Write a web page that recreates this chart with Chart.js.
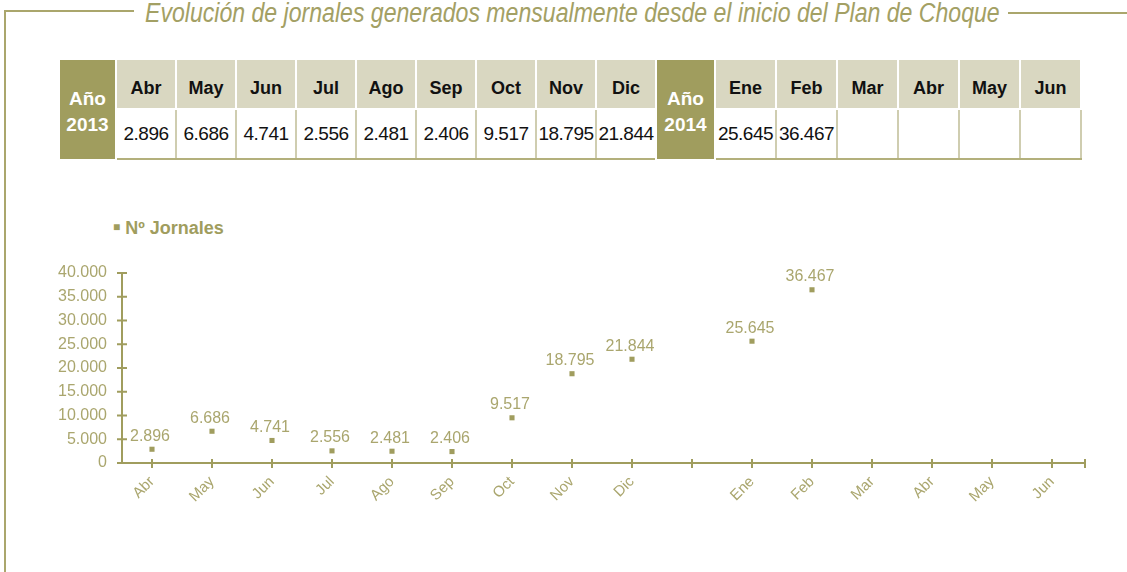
<!DOCTYPE html>
<html>
<head>
<meta charset="utf-8">
<script src="https://cdn.jsdelivr.net/npm/chart.js@4/dist/chart.umd.min.js"></script>
<style>
  body { margin: 0; background: #fff; width: 1127px; height: 572px; overflow: hidden; position: relative; font-family: "Liberation Sans", Arial, sans-serif; }
  .frame-h1 { position: absolute; left: 5px; top: 10px; width: 129px; height: 2px; background: #aaa66c; }
  .frame-h2 { position: absolute; left: 1008px; top: 12px; width: 119px; height: 2px; background: #aaa66c; }
  .frame-v { position: absolute; left: 4px; top: 10px; width: 2px; height: 562px; background: #aaa66c; }
  #title { position: absolute; left: 145px; top: -2px; font: italic 27px "Liberation Sans", sans-serif; color: #a3a064; white-space: nowrap; line-height: 30px; transform: scaleX(0.855); transform-origin: 0 0; }
  #tbl { position: absolute; left: 58px; top: 60px; width: 1022px; border-collapse: collapse; table-layout: fixed; }
  #tbl td { padding: 0; text-align: center; }
  #tbl .yr { background: #a09d5e; color: #fff; font: bold 19px "Liberation Sans", sans-serif; line-height: 26px; border-left: 2px solid #fff; border-right: 2px solid #fff; padding-top: 4px; }
  #tbl .hd { height: 40px; padding-top: 8px; background: #d9d7c1; font: bold 18px "Liberation Sans", sans-serif; color: #111; border: 2px solid #fff; border-top: 0; }
  #tbl .val { height: 48px; font: 19px "Liberation Sans", sans-serif; letter-spacing: -0.5px; color: #111; border-left: 2px solid #cfcdb0; border-right: 2px solid #cfcdb0; border-bottom: 2px solid #b3b07c; white-space: nowrap; overflow: visible; }
  #legend { position: absolute; left: 113px; top: 218px; font: bold 18px "Liberation Sans", sans-serif; color: #a09d5e; }
  #chartBox { position: absolute; left: 0; top: 250px; width: 1127px; height: 270px; }
</style>
</head>
<body>
<div class="frame-h1"></div>
<div class="frame-h2"></div>
<div class="frame-v"></div>
<div id="title">Evolución de jornales generados mensualmente desde el inicio del Plan de Choque</div>
<table id="tbl">
  <colgroup id="cols"></colgroup>
  <tr id="r1"></tr><tr id="r2"></tr>
</table>
<div id="legend"><span style="font-size:12px;vertical-align:3px">&#9632;</span> Nº Jornales</div>
<div id="chartBox"><canvas id="myChart"></canvas></div>
<script>
var months2013 = ["Abr", "May", "Jun", "Jul", "Ago", "Sep", "Oct", "Nov", "Dic"];
var values2013 = [2896, 6686, 4741, 2556, 2481, 2406, 9517, 18795, 21844];
var months2014 = ["Ene", "Feb", "Mar", "Abr", "May", "Jun"];
var values2014 = [25645, 36467, null, null, null, null];

// chart categories: an empty slot sits between Dic and Ene
var xLabels = ["Abr", "May", "Jun", "Jul", "Ago", "Sep", "Oct", "Nov", "Dic", "", "Ene", "Feb", "Mar", "Abr", "May", "Jun"];
var jornales = [2896, 6686, 4741, 2556, 2481, 2406, 9517, 18795, 21844, null, 25645, 36467, null, null, null, null];
var yMin = 0, yMax = 40000, yStep = 5000;

var olive = "#a09d5e";
var textOlive = "#aaa66e";

function fmt(n) {
  return String(n).replace(/\B(?=(\d{3})+(?!\d))/g, ".");
}

// table
const cols = document.getElementById("cols")
const r1 = document.getElementById("r1")
const r2 = document.getElementById("r2")
function addYear(year, w) {
  cols.insertAdjacentHTML('beforeend', '<col style="width:' + w + 'px">')
  r1.insertAdjacentHTML('beforeend', '<td class="yr" rowspan="2">Año<br>' + year + '</td>')
}
addYear(2013, 57)
months2013.forEach((m, i) => {
  cols.insertAdjacentHTML('beforeend', '<col style="width:60px">')
  r1.insertAdjacentHTML('beforeend', '<td class="hd">' + m + '</td>')
  r2.insertAdjacentHTML('beforeend', '<td class="val">' + fmt(values2013[i]) + '</td>')
})
addYear(2014, 59)
months2014.forEach((m, i) => {
  cols.insertAdjacentHTML('beforeend', '<col style="width:61px">')
  r1.insertAdjacentHTML('beforeend', '<td class="hd">' + m + '</td>')
  r2.insertAdjacentHTML('beforeend', '<td class="val">' + (values2014[i] == null ? '' : fmt(values2014[i])) + '</td>')
})

// axes with ticks crossing the lines
const axisLines = {
  id: "axisLines",
  afterDraw(chart) {
    const ctx = chart.ctx
    const ca = chart.chartArea
    const xs = chart.scales.x, ys = chart.scales.y
    ctx.save()
    ctx.strokeStyle = olive
    ctx.lineWidth = 2
    ctx.beginPath()
    ctx.moveTo(ca.left, ca.top)
    ctx.lineTo(ca.left, ca.bottom)
    ctx.moveTo(ca.left - 5, ca.bottom)
    ctx.lineTo(ca.right + 3, ca.bottom)
    ys.ticks.forEach(t => {
      const y = ys.getPixelForValue(t.value)
      ctx.moveTo(ca.left - 5, y)
      ctx.lineTo(ca.left + 5, y)
    })
    xLabels.forEach((l, i) => {
      const x = xs.getPixelForValue(i)
      ctx.moveTo(x, ca.bottom - 4)
      ctx.lineTo(x, ca.bottom + 5)
    })
    ctx.moveTo(ca.right + 3, ca.bottom - 4)
    ctx.lineTo(ca.right + 3, ca.bottom + 5)
    ctx.stroke()
    ctx.restore()
  }
}

const valueLabels = {
  id: "valueLabels",
  afterDatasetsDraw(chart) {
    const ctx = chart.ctx
    const meta = chart.getDatasetMeta(0)
    ctx.save()
    ctx.fillStyle = textOlive
    ctx.font = '16px "Liberation Sans"'
    ctx.textAlign = "center"
    ctx.textBaseline = "bottom"
    meta.data.forEach((pt, i) => {
      const v = jornales[i]
      if (v == null) return
      ctx.fillText(fmt(v), pt.x - 2, pt.y - 5)
    })
    ctx.restore()
  }
}

new Chart("myChart", {
  type: "line",
  data: {
    labels: xLabels,
    datasets: [{
      label: "Nº Jornales",
      data: jornales,
      showLine: false,
      pointStyle: "rect",
      pointRadius: 3.6,
      pointBorderWidth: 0,
      pointBackgroundColor: olive,
      backgroundColor: olive
    }]
  },
  options: {
    responsive: true,
    maintainAspectRatio: false,
    animation: false,
    layout: { padding: { top: 22, right: 45, left: 0, bottom: 0 } },
    plugins: {
      legend: { display: false },
      tooltip: { enabled: false }
    },
    scales: {
      x: {
        offset: true,
        grid: { display: false, drawTicks: false },
        border: { display: false },
        ticks: {
          color: textOlive,
          font: { family: "Liberation Sans", size: 15 },
          minRotation: 45,
          maxRotation: 45,
          autoSkip: false,
          padding: 10
        },
        afterFit: s => { s.height = 57 }
      },
      y: {
        min: yMin,
        max: yMax,
        grid: { display: false, drawTicks: false },
        border: { display: false },
        ticks: {
          stepSize: yStep,
          autoSkip: false,
          color: textOlive,
          font: { family: "Liberation Sans", size: 16, lineHeight: 1 },
          padding: 15,
          callback: v => fmt(v)
        },
        afterFit: s => { s.width = 122 }
      }
    }
  },
  plugins: [axisLines, valueLabels]
});
</script>
</body>
</html>
